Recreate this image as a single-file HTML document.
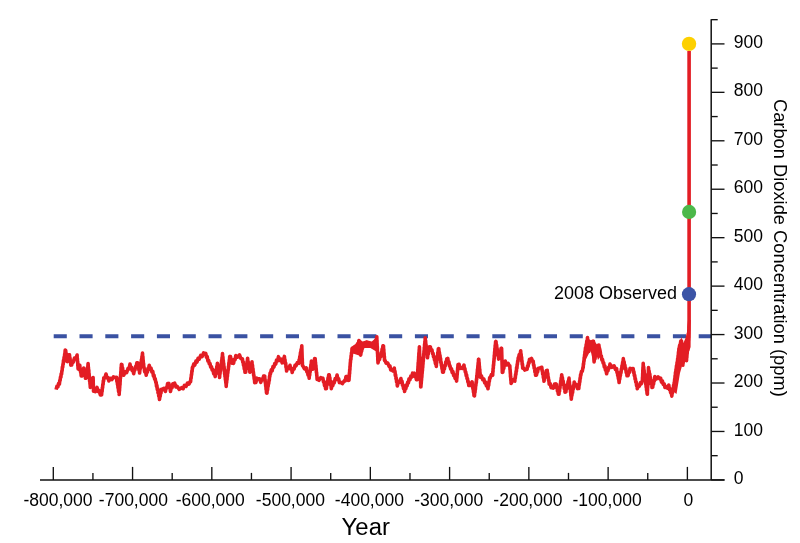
<!DOCTYPE html>
<html><head><meta charset="utf-8"><style>
html,body{margin:0;padding:0;background:#fff;width:800px;height:543px;overflow:hidden}
svg{display:block;will-change:transform}
.t{font-family:"Liberation Sans",sans-serif;font-size:17.5px;fill:#000}
</style></head><body>
<svg width="800" height="543" viewBox="0 0 800 543">
<rect width="800" height="543" fill="#fff"/>
<path d="M53.7 336.3H711.2" stroke="#3a52a2" stroke-width="4" stroke-dasharray="13.1 12.7" fill="none"/>
<path d="M40 479.9H724.5" stroke="#111" stroke-width="1.5" fill="none"/>
<path d="M711.2 19.2V479.9" stroke="#111" stroke-width="1.5" fill="none"/>
<path d="M711.2 479.90h13.3" stroke="#111" stroke-width="1.35"/>
<path d="M711.2 455.68h6.5" stroke="#111" stroke-width="1.35"/>
<path d="M711.2 431.46h13.3" stroke="#111" stroke-width="1.35"/>
<path d="M711.2 407.23h6.5" stroke="#111" stroke-width="1.35"/>
<path d="M711.2 383.01h13.3" stroke="#111" stroke-width="1.35"/>
<path d="M711.2 358.79h6.5" stroke="#111" stroke-width="1.35"/>
<path d="M711.2 334.57h13.3" stroke="#111" stroke-width="1.35"/>
<path d="M711.2 310.34h6.5" stroke="#111" stroke-width="1.35"/>
<path d="M711.2 286.12h13.3" stroke="#111" stroke-width="1.35"/>
<path d="M711.2 261.90h6.5" stroke="#111" stroke-width="1.35"/>
<path d="M711.2 237.68h13.3" stroke="#111" stroke-width="1.35"/>
<path d="M711.2 213.46h6.5" stroke="#111" stroke-width="1.35"/>
<path d="M711.2 189.23h13.3" stroke="#111" stroke-width="1.35"/>
<path d="M711.2 165.01h6.5" stroke="#111" stroke-width="1.35"/>
<path d="M711.2 140.79h13.3" stroke="#111" stroke-width="1.35"/>
<path d="M711.2 116.57h6.5" stroke="#111" stroke-width="1.35"/>
<path d="M711.2 92.34h13.3" stroke="#111" stroke-width="1.35"/>
<path d="M711.2 68.12h6.5" stroke="#111" stroke-width="1.35"/>
<path d="M711.2 43.90h13.3" stroke="#111" stroke-width="1.35"/>
<path d="M711.2 19.68h6.5" stroke="#111" stroke-width="1.35"/>
<path d="M53.30 479.9v-13" stroke="#111" stroke-width="1.35"/>
<path d="M92.93 479.9v-7" stroke="#111" stroke-width="1.35"/>
<path d="M132.56 479.9v-13" stroke="#111" stroke-width="1.35"/>
<path d="M172.19 479.9v-7" stroke="#111" stroke-width="1.35"/>
<path d="M211.82 479.9v-13" stroke="#111" stroke-width="1.35"/>
<path d="M251.45 479.9v-7" stroke="#111" stroke-width="1.35"/>
<path d="M291.08 479.9v-13" stroke="#111" stroke-width="1.35"/>
<path d="M330.71 479.9v-7" stroke="#111" stroke-width="1.35"/>
<path d="M370.34 479.9v-13" stroke="#111" stroke-width="1.35"/>
<path d="M409.97 479.9v-7" stroke="#111" stroke-width="1.35"/>
<path d="M449.60 479.9v-13" stroke="#111" stroke-width="1.35"/>
<path d="M489.23 479.9v-7" stroke="#111" stroke-width="1.35"/>
<path d="M528.86 479.9v-13" stroke="#111" stroke-width="1.35"/>
<path d="M568.49 479.9v-7" stroke="#111" stroke-width="1.35"/>
<path d="M608.12 479.9v-13" stroke="#111" stroke-width="1.35"/>
<path d="M647.75 479.9v-7" stroke="#111" stroke-width="1.35"/>
<path d="M687.38 479.9v-13" stroke="#111" stroke-width="1.35"/>
<text x="733.7" y="484.00" class="t">0</text>
<text x="733.7" y="435.56" class="t">100</text>
<text x="733.7" y="387.11" class="t">200</text>
<text x="733.7" y="338.67" class="t">300</text>
<text x="733.7" y="290.22" class="t">400</text>
<text x="733.7" y="241.78" class="t">500</text>
<text x="733.7" y="193.33" class="t">600</text>
<text x="733.7" y="144.89" class="t">700</text>
<text x="733.7" y="96.44" class="t">800</text>
<text x="733.7" y="48.00" class="t">900</text>
<text x="58" y="505.6" class="t" text-anchor="middle">-800,000</text>
<text x="133.4" y="505.6" class="t" text-anchor="middle">-700,000</text>
<text x="210.25" y="505.6" class="t" text-anchor="middle">-600,000</text>
<text x="290.4" y="505.6" class="t" text-anchor="middle">-500,000</text>
<text x="369.4" y="505.6" class="t" text-anchor="middle">-400,000</text>
<text x="448.75" y="505.6" class="t" text-anchor="middle">-300,000</text>
<text x="527.9" y="505.6" class="t" text-anchor="middle">-200,000</text>
<text x="607.1" y="505.6" class="t" text-anchor="middle">-100,000</text>
<text x="688.4" y="505.6" class="t" text-anchor="middle">0</text>
<polyline points="56.1,389.6 56.9,386.3 57.8,387.0 58.6,383.5 59.4,384.1 59.8,380.3 60.1,380.6 60.5,376.9 60.9,377.3 61.2,373.7 61.6,374.0 61.9,370.6 62.1,370.9 62.4,366.8 62.7,367.4 63.0,363.9 63.2,364.4 63.5,360.2 63.8,361.1 64.1,357.1 64.4,357.8 64.7,353.8 64.9,354.2 65.2,350.1 65.5,350.3 65.7,350.3 66.0,354.0 66.2,353.5 66.4,357.5 66.6,357.2 66.9,361.4 67.1,361.0 67.5,361.6 68.0,358.0 68.4,358.3 68.9,354.9 69.3,355.5 69.5,354.8 69.8,358.5 70.0,357.9 70.3,361.7 70.5,361.2 70.8,365.1 71.0,364.2 71.7,364.9 72.5,361.3 73.2,362.1 74.5,358.0 75.8,358.9 77.1,355.0 77.2,359.1 77.4,358.5 77.5,362.2 77.7,361.6 77.8,365.6 77.9,365.2 78.1,368.9 78.2,368.6 79.0,369.4 79.8,365.3 80.1,369.5 80.4,368.8 80.7,372.7 80.9,371.9 81.2,375.9 81.5,375.3 82.0,375.9 82.6,371.4 83.2,372.1 83.7,368.0 84.1,371.6 84.4,371.1 84.8,375.1 85.2,374.1 85.5,378.3 85.9,377.6 86.2,377.9 86.5,373.9 86.7,374.3 87.0,370.6 87.3,370.9 87.5,367.3 87.8,367.4 88.1,363.5 88.3,367.4 88.4,367.1 88.6,370.8 88.8,370.1 88.9,374.0 89.1,373.7 89.3,377.6 89.5,376.8 89.6,381.1 89.8,380.1 90.0,384.1 90.1,383.7 90.3,387.4 90.9,383.5 91.4,384.7 92.0,380.8 92.5,381.1 93.1,377.6 93.2,381.2 93.2,380.8 93.3,384.8 93.3,384.3 93.4,387.8 93.5,387.5 93.5,391.3 93.6,390.7 95.3,391.6 97.0,387.4 98.1,391.4 99.2,390.7 100.3,394.8 101.4,394.3 101.6,394.9 101.9,390.6 102.1,391.5 102.4,387.3 102.6,388.0 102.8,384.2 103.1,384.5 103.3,380.7 103.6,381.1 103.8,377.7 104.9,377.7 106.0,374.0 107.0,377.7 107.9,377.5 108.9,380.9 110.4,378.4 111.9,379.5 113.4,376.9 116.3,378.0 116.6,377.4 116.9,381.5 117.2,381.1 117.5,384.6 117.8,384.2 118.0,387.9 118.3,387.6 118.6,391.5 118.9,390.4 119.2,394.5 119.3,390.7 119.5,391.0 119.6,387.6 119.7,387.9 119.8,384.2 120.0,384.9 120.1,381.0 120.2,381.1 120.3,377.3 120.5,378.1 120.6,374.5 120.7,374.9 120.9,371.2 121.0,371.6 121.1,367.4 121.2,368.5 121.4,364.3 121.5,364.9 121.9,364.6 122.2,368.3 122.6,367.8 123.0,371.9 123.3,371.2 123.7,375.2 125.2,371.8 126.6,372.6 128.1,368.4 129.1,368.9 130.0,364.1 130.7,368.2 131.5,367.1 132.2,370.7 133.0,370.1 133.7,373.7 134.3,370.1 134.9,370.1 135.6,366.6 136.2,366.8 136.8,362.9 137.4,363.8 137.8,362.9 138.1,367.0 138.5,365.8 138.9,370.2 139.2,369.4 139.6,373.0 139.9,369.4 140.1,369.7 140.4,366.2 140.7,366.8 140.9,362.6 141.2,363.7 141.4,359.6 141.7,360.3 142.0,356.2 142.2,356.8 142.5,353.1 142.7,357.4 142.9,356.5 143.1,360.8 143.2,360.2 143.4,364.0 143.6,363.5 143.8,367.6 144.0,367.0 144.7,371.7 145.5,371.2 146.2,375.3 146.8,371.2 147.4,372.2 148.0,368.4 148.6,368.6 149.2,365.2 150.1,369.1 151.0,368.1 151.9,372.0 152.8,371.4 153.4,375.9 154.0,375.1 154.6,379.1 155.2,378.7 155.8,382.5 156.2,382.4 156.5,386.4 156.9,385.5 157.3,389.5 157.7,388.7 158.0,392.8 158.4,392.1 158.8,396.4 159.1,395.9 159.5,399.5 159.9,395.9 160.2,396.3 160.6,392.5 161.0,393.1 161.3,389.4 161.7,389.8 163.6,388.3 165.4,391.4 166.1,387.5 166.9,387.9 167.6,383.5 168.3,384.1 168.9,383.5 169.4,387.8 169.9,387.4 170.5,391.5 171.2,387.7 172.0,387.8 172.8,383.9 173.5,383.8 174.7,383.2 175.9,386.9 177.1,386.4 179.3,389.4 181.6,387.7 183.1,388.7 184.5,385.3 186.0,386.4 187.5,383.0 188.9,384.2 190.4,381.1 190.6,381.6 190.9,377.9 191.1,378.4 191.4,374.3 191.6,374.8 191.9,370.7 192.1,371.6 192.4,367.4 192.6,368.0 193.7,364.2 194.8,365.0 195.9,361.2 197.0,362.0 198.1,358.3 199.2,359.1 200.7,355.3 202.1,356.6 203.6,352.8 205.1,354.2 205.8,353.5 206.5,357.3 207.2,356.5 207.9,360.9 208.6,360.3 209.3,363.8 210.0,363.5 210.7,367.1 211.5,366.8 212.2,370.2 213.0,369.7 213.7,373.8 214.5,372.8 215.2,376.6 215.5,372.9 215.8,373.7 216.1,370.0 216.5,370.7 216.8,366.4 217.1,367.1 217.4,363.2 217.7,367.3 218.0,366.9 218.3,371.1 218.7,370.0 219.0,374.0 219.3,373.6 219.6,377.5 219.8,373.7 220.0,374.1 220.3,370.4 220.5,371.1 220.7,367.3 220.9,367.7 221.2,363.8 221.4,364.1 221.6,360.6 221.8,361.1 222.1,357.2 222.3,357.5 222.5,353.6 222.7,357.9 222.9,356.8 223.1,360.7 223.3,360.4 223.5,363.8 223.7,363.3 223.9,367.1 224.1,366.8 224.3,370.4 224.4,369.5 224.6,373.8 224.8,373.1 225.0,376.6 225.2,375.9 225.4,380.0 225.6,379.2 225.8,382.9 226.0,382.7 226.2,386.4 226.4,382.5 226.6,382.8 226.8,378.9 227.0,379.9 227.2,375.7 227.4,376.3 227.6,372.4 227.8,373.0 228.1,369.2 228.3,370.0 228.5,366.2 228.7,366.7 228.9,362.6 229.1,363.3 229.3,359.8 229.5,360.2 229.7,356.5 229.9,356.7 230.5,356.5 231.1,359.9 231.6,359.7 232.2,363.3 232.8,362.9 233.6,363.3 234.3,359.2 235.1,359.5 235.8,355.6 237.7,357.2 239.5,354.9 240.9,358.6 242.4,358.7 242.8,362.4 243.2,361.7 243.5,365.4 243.9,365.0 244.3,369.1 244.7,368.5 245.0,372.3 245.4,371.6 245.7,372.2 245.9,368.1 246.2,368.8 246.5,365.0 246.8,365.7 247.1,361.4 247.3,362.2 247.6,358.2 247.9,362.4 248.2,361.7 248.5,365.6 248.9,365.2 249.2,368.8 249.5,368.7 249.8,372.2 250.2,368.4 250.7,369.0 251.1,365.4 251.6,365.6 252.0,361.8 252.2,366.1 252.5,365.2 252.7,369.1 253.0,368.8 253.2,372.4 253.4,372.0 253.7,375.6 253.9,375.3 254.2,379.0 254.4,378.3 254.7,382.7 254.9,381.9 255.9,382.3 256.9,378.2 257.9,378.9 259.4,378.7 260.8,382.4 261.7,379.1 262.6,379.8 263.6,376.1 264.5,376.7 264.7,376.2 264.9,379.8 265.1,379.5 265.3,383.0 265.5,382.7 265.7,386.2 265.9,386.1 266.1,389.6 266.3,389.2 266.5,393.0 266.7,392.3 267.0,393.1 267.3,389.0 267.6,389.9 267.8,385.7 268.1,386.5 268.4,382.8 268.7,383.6 269.0,379.7 269.3,380.3 269.5,376.3 269.8,376.7 270.1,373.0 270.4,374.0 271.3,369.9 272.2,370.7 273.0,366.5 273.9,367.1 274.8,363.5 275.7,364.1 276.6,360.0 277.6,360.9 278.5,356.7 279.7,360.4 281.0,359.1 282.2,362.9 282.9,359.0 283.7,359.7 284.4,356.4 284.7,360.0 285.0,359.8 285.3,363.6 285.7,363.1 286.0,367.4 286.3,366.8 286.6,371.0 287.7,367.3 288.9,368.4 290.0,365.3 290.7,369.1 291.5,368.3 292.2,372.4 293.1,368.5 294.0,369.2 295.0,365.4 295.9,365.9 297.4,362.5 298.8,363.3 299.1,359.7 299.5,360.2 299.8,356.3 300.1,356.8 300.5,352.4 300.8,353.2 301.1,349.3 301.5,349.7 301.8,345.7 301.9,349.8 301.9,348.9 302.0,352.9 302.0,352.4 302.1,355.8 302.1,355.5 302.2,359.4 302.3,358.7 302.3,362.5 302.4,362.1 302.4,365.4 302.5,365.1 304.4,368.8 306.2,367.8 306.8,371.8 307.4,371.2 308.0,375.0 308.6,374.4 309.2,378.2 309.4,374.6 309.7,375.2 309.9,371.2 310.2,372.0 310.4,367.6 310.7,368.1 310.9,364.6 311.2,365.3 311.4,361.0 311.9,365.5 312.3,365.3 312.8,369.3 313.2,365.2 313.5,365.8 313.9,362.0 314.3,362.4 314.6,358.6 315.0,359.4 315.2,358.8 315.4,362.7 315.5,362.0 315.7,366.1 315.9,365.3 316.1,369.2 316.2,368.6 316.4,372.7 316.6,372.4 316.8,375.8 316.9,375.6 317.1,379.5 317.3,379.1 319.0,380.3 320.7,377.6 322.4,378.9 322.9,378.2 323.5,381.9 324.0,381.4 324.5,385.5 325.0,384.8 325.6,388.7 326.1,387.7 326.4,388.6 326.7,384.6 327.1,385.0 327.4,381.3 327.7,382.1 328.0,377.9 328.4,378.5 328.7,374.8 329.0,375.2 329.3,375.0 329.6,378.4 329.9,377.9 330.1,381.8 330.4,381.1 330.7,385.2 331.0,384.8 331.3,388.6 332.0,385.1 332.8,385.6 333.5,381.7 334.2,382.9 335.2,378.6 336.1,379.3 337.1,375.0 337.9,379.4 338.6,378.6 339.4,382.6 340.1,382.1 342.3,383.6 344.5,380.5 345.2,380.9 346.0,376.5 346.7,376.7 347.4,376.5 348.2,380.5 348.9,379.9 349.0,380.2 349.2,376.3 349.3,376.7 349.4,372.7 349.6,373.6 349.7,369.6 349.9,370.0 350.0,366.1 350.1,366.6 350.3,362.6 350.4,362.9 350.6,359.4 350.9,359.5 351.1,355.5 351.3,356.3 351.5,352.5 351.8,353.1 352.0,348.6 353.6,349.8 355.2,346.6 357.0,350.9 357.4,347.4 357.8,347.6 358.1,344.0 358.5,344.2 358.9,340.5 359.2,344.4 359.4,343.7 359.7,348.1 359.9,347.6 360.2,351.5 360.4,351.1 360.7,355.1 361.2,351.2 361.6,351.3 362.1,347.6 362.5,348.2 363.0,344.1 364.9,345.4 366.7,342.3 367.9,346.1 369.0,345.0 371.8,345.5 373.4,343.3 375.0,345.1 375.6,340.9 376.2,341.4 376.8,336.7 376.9,340.9 377.0,340.3 377.0,343.7 377.1,343.2 377.2,347.3 377.3,346.5 377.4,350.4 377.4,350.0 377.5,353.5 377.6,352.6 377.7,356.9 377.8,355.9 377.8,360.2 377.9,359.4 378.0,362.9 378.8,359.3 379.5,359.6 380.2,355.5 381.0,356.4 381.4,352.2 381.8,353.0 382.1,349.0 382.5,349.8 382.9,345.9 383.3,346.4 383.5,345.9 383.6,349.9 383.8,349.3 383.9,353.5 384.1,353.0 384.2,356.7 384.4,356.5 384.5,360.4 384.7,359.7 386.2,363.3 387.7,363.0 389.2,366.5 389.9,365.9 390.7,369.9 391.4,369.5 392.9,370.9 394.3,368.2 394.6,371.7 395.0,371.3 395.3,375.5 395.6,374.7 396.0,378.9 396.3,378.2 396.6,382.0 397.0,381.8 397.3,385.9 398.5,381.6 399.7,382.1 400.9,378.5 401.4,382.1 402.0,381.3 402.5,385.2 403.0,384.7 403.5,388.5 404.1,387.5 404.6,391.4 405.2,388.1 405.9,388.5 406.5,384.9 407.1,385.7 407.7,382.1 408.4,382.9 409.0,378.8 409.9,379.7 410.8,376.2 411.7,377.0 412.6,373.2 413.5,374.0 414.2,373.2 414.9,376.6 415.7,375.9 416.4,379.6 417.1,378.7 417.2,379.6 417.3,375.9 417.4,376.2 417.6,372.5 417.7,373.2 417.8,369.0 417.9,369.7 418.0,366.1 418.1,366.5 418.2,362.5 418.4,363.2 418.5,359.8 418.6,359.9 418.7,356.4 418.8,357.1 418.9,352.8 419.1,353.8 419.2,349.5 419.3,350.7 419.4,346.7 419.5,350.3 419.5,349.7 419.6,353.9 419.6,353.5 419.7,357.2 419.8,356.6 419.8,360.4 419.9,359.9 419.9,363.6 420.0,363.4 420.0,366.9 420.1,366.6 420.2,370.6 420.2,370.0 420.3,374.0 420.3,373.3 420.4,376.9 420.4,376.2 420.5,380.5 420.6,379.8 420.6,383.4 420.7,383.1 420.7,386.9 420.8,386.1 420.9,386.8 421.1,383.2 421.2,384.0 421.4,380.1 421.5,380.5 421.7,376.5 421.8,377.4 422.0,373.7 422.1,373.7 422.3,370.4 422.4,371.0 422.6,367.0 422.7,367.7 422.9,363.4 423.0,364.2 423.1,360.5 423.3,361.3 423.4,357.1 423.6,357.6 423.7,353.8 423.9,354.4 424.0,350.8 424.2,351.0 424.3,347.3 424.5,348.3 424.6,344.1 424.8,345.0 424.9,341.2 425.1,341.4 425.2,337.7 425.4,341.8 425.6,340.6 425.8,344.7 426.0,344.3 426.2,347.9 426.5,347.3 426.7,351.4 426.9,350.7 427.1,354.6 427.3,353.6 427.5,357.8 427.9,353.5 428.2,354.2 428.6,350.3 429.0,350.7 429.3,346.9 429.7,347.5 430.4,347.0 431.1,350.5 431.9,349.9 432.6,353.8 433.1,353.5 433.5,356.8 434.0,356.4 434.5,360.1 434.9,359.3 435.4,363.6 435.8,362.4 436.3,366.4 436.5,362.8 436.7,362.9 437.0,359.2 437.2,359.8 437.4,355.8 437.6,356.2 437.8,352.4 438.1,353.0 438.3,348.9 438.5,349.7 438.8,348.7 439.1,352.9 439.4,352.4 439.7,356.2 440.0,355.5 440.3,359.3 440.6,358.7 440.8,362.6 441.1,362.0 441.4,365.6 441.7,365.2 442.0,368.8 442.3,368.1 442.6,372.2 442.9,371.7 443.4,372.1 443.9,368.0 444.4,368.9 444.9,365.2 445.3,365.8 445.8,361.7 446.3,362.7 446.8,358.7 447.3,359.1 447.8,358.5 448.4,362.8 448.9,361.9 449.5,365.9 450.0,365.8 450.7,369.2 451.5,368.9 452.2,372.7 452.9,371.6 453.7,375.6 454.4,374.7 455.1,378.5 455.9,377.5 456.6,381.1 456.8,377.2 456.9,378.2 457.1,374.3 457.2,374.8 457.4,370.8 457.5,371.3 457.7,367.7 457.8,368.1 458.0,364.6 458.1,364.9 459.1,364.4 460.0,368.5 461.0,368.0 462.5,368.4 464.0,365.1 464.4,369.0 464.9,368.5 465.3,372.1 465.7,371.8 466.2,375.7 466.6,374.9 467.0,378.6 467.5,378.5 467.9,382.1 468.3,381.5 468.8,385.5 469.2,385.1 470.6,385.4 472.1,381.8 472.4,385.7 472.7,385.3 472.9,389.0 473.2,388.3 473.5,392.3 473.8,391.8 474.0,395.7 474.3,395.2 474.5,396.0 474.7,391.7 475.0,392.5 475.2,388.9 475.4,389.4 475.6,385.6 475.8,385.8 476.1,382.0 476.3,382.8 476.5,378.8 476.7,379.5 476.8,375.5 477.0,376.3 477.2,372.6 477.3,372.7 477.5,369.1 477.7,369.8 477.9,365.6 478.0,366.2 478.2,362.5 478.4,363.0 478.5,359.2 478.7,359.6 478.8,359.4 479.0,363.2 479.1,362.4 479.3,366.4 479.4,366.1 479.6,370.2 479.8,369.2 479.9,373.3 480.1,373.1 480.2,377.1 481.4,375.8 482.7,379.7 483.9,379.2 484.7,382.9 485.5,382.0 486.4,385.9 487.2,384.8 488.0,388.8 488.3,384.8 488.7,385.3 489.0,381.3 489.3,381.6 489.7,377.5 490.0,378.4 491.4,374.7 492.7,375.2 492.8,371.5 493.0,372.0 493.1,368.2 493.3,368.5 493.4,364.9 493.6,365.5 493.8,361.2 493.9,361.8 494.1,358.1 494.2,358.9 494.3,355.1 494.5,355.6 494.6,351.7 494.8,352.1 494.9,348.2 495.1,348.8 495.2,345.0 495.4,345.4 495.6,341.5 495.7,342.1 496.0,341.5 496.3,345.5 496.6,345.0 496.9,348.7 497.1,348.3 497.4,352.3 497.7,351.9 498.0,355.9 498.3,355.0 498.6,359.1 499.1,355.3 499.6,355.7 500.1,352.0 500.6,352.0 501.1,348.3 501.6,348.6 501.6,348.3 501.7,352.2 501.7,351.8 501.8,355.6 501.8,355.1 501.9,359.0 501.9,358.1 502.0,362.2 502.0,361.8 502.1,365.5 502.1,365.0 502.2,369.1 502.2,368.5 502.3,372.4 502.3,371.3 502.8,372.2 503.3,368.0 503.8,368.5 504.2,364.4 504.7,365.2 505.2,361.0 506.7,364.8 508.2,363.5 509.7,366.7 509.8,365.7 510.0,369.7 510.1,369.4 510.3,373.4 510.4,372.9 510.5,376.9 510.7,376.2 510.8,380.2 511.0,379.7 511.1,383.4 513.0,379.8 514.8,381.1 515.1,377.5 515.3,378.0 515.6,374.2 515.9,374.4 516.1,371.0 516.4,371.3 516.6,367.3 516.9,368.3 517.2,364.1 517.4,364.7 517.7,360.9 518.0,361.5 518.2,357.8 518.5,358.5 519.2,354.5 520.0,355.2 520.7,350.9 520.9,354.9 521.1,354.0 521.4,357.9 521.6,357.2 521.8,361.4 522.0,360.8 522.2,364.7 522.5,364.1 522.7,368.1 522.9,367.1 524.8,370.1 526.6,368.5 527.1,369.3 527.6,365.7 528.1,366.3 528.5,362.6 529.0,363.2 529.5,359.3 530.0,359.9 531.5,358.4 532.9,362.1 533.2,361.3 533.6,365.2 533.9,365.0 534.2,368.3 534.6,368.2 534.9,372.0 535.2,371.3 535.6,375.2 535.9,374.4 536.5,375.0 537.1,371.5 537.6,372.0 538.2,368.4 538.8,368.4 541.8,367.3 542.1,370.9 542.4,370.6 542.7,374.3 543.1,373.9 543.4,377.9 543.7,377.5 544.0,381.3 544.5,377.3 545.0,377.6 545.5,373.6 545.9,374.2 546.4,370.6 546.9,370.7 547.2,370.3 547.5,374.4 547.8,373.5 548.0,377.5 548.3,377.1 548.6,380.5 548.9,380.1 549.2,384.2 550.2,383.7 551.1,387.7 552.1,387.1 553.3,388.1 554.6,384.0 555.8,384.8 556.2,384.0 556.6,387.8 557.0,387.4 557.5,391.2 557.9,390.7 558.3,394.1 558.7,393.5 559.0,394.1 559.2,390.5 559.5,391.4 559.7,387.5 560.0,387.8 560.2,384.1 560.5,384.8 560.7,380.9 561.0,381.8 561.2,377.9 561.5,378.3 561.7,374.7 562.1,378.3 562.4,377.7 562.8,382.0 563.2,381.2 563.5,385.0 563.9,384.5 564.3,388.8 564.7,388.1 565.0,392.2 565.4,391.5 565.9,391.9 566.3,388.4 566.8,388.6 567.2,385.1 567.6,385.4 568.1,381.4 568.5,382.3 569.0,378.1 569.2,382.3 569.4,381.8 569.6,385.6 569.8,385.0 570.0,389.0 570.3,388.3 570.5,392.1 570.7,391.6 570.9,395.8 571.1,395.2 571.3,399.1 571.6,395.3 571.9,395.5 572.3,391.9 572.6,392.5 572.9,388.2 573.2,389.2 573.6,385.3 573.9,386.0 574.2,382.0 575.3,385.4 576.4,384.6 577.5,388.6 578.6,387.7 578.8,388.5 579.1,384.2 579.3,385.1 579.6,381.1 579.8,382.0 580.1,377.8 580.3,378.6 580.6,374.6 580.8,375.4 581.5,371.2 582.3,371.2 583.0,367.1 583.2,367.6 583.4,363.7 583.6,364.4 583.8,361.0 584.0,361.2 584.2,357.3 584.4,358.1 584.6,354.5 584.8,354.7 585.0,351.3 585.2,351.8 585.5,347.7 585.9,348.5 586.2,344.3 586.5,344.7 586.8,341.0 587.2,341.5 587.5,337.5 587.7,341.8 587.9,340.8 588.1,344.7 588.3,344.2 588.5,348.6 588.7,347.5 588.9,351.5 589.6,348.0 590.4,348.3 591.1,344.9 591.9,345.5 592.6,341.3 593.4,342.2 593.5,341.4 593.5,345.5 593.6,345.0 593.6,348.5 593.7,348.4 593.8,352.2 593.8,351.7 593.9,355.3 593.9,354.8 594.0,358.4 594.0,358.3 594.1,361.9 594.5,358.0 595.0,358.7 595.4,355.0 595.9,355.8 596.3,351.7 596.7,352.5 597.2,348.4 597.6,348.8 598.1,345.2 598.5,345.8 598.9,345.1 599.2,349.2 599.6,348.6 600.0,352.7 600.3,352.3 600.7,356.3 601.3,355.9 601.9,359.9 602.5,359.4 603.1,363.0 603.7,362.9 604.3,366.9 604.9,366.0 605.4,370.0 606.0,369.8 606.6,373.8 607.3,370.0 608.0,370.7 608.6,367.2 609.3,367.9 610.0,364.1 612.0,367.3 614.1,365.8 615.4,369.4 616.6,368.7 617.0,372.6 617.3,371.9 617.7,375.6 618.0,375.1 618.4,378.9 618.7,378.4 619.1,382.5 619.4,378.4 619.7,379.2 620.1,375.3 620.4,375.7 620.7,371.9 621.0,372.7 621.4,368.8 621.7,369.3 622.0,365.5 622.3,365.6 622.7,362.0 623.0,362.7 623.3,358.6 623.7,362.4 624.1,361.7 624.5,365.7 624.9,365.2 625.3,369.1 625.8,368.4 626.2,372.6 626.6,371.8 627.0,375.7 627.4,375.3 628.1,375.6 628.7,371.7 629.4,372.5 630.0,368.4 630.7,368.9 633.2,368.6 633.6,372.6 633.9,371.8 634.3,375.6 634.7,375.2 635.1,379.3 635.4,378.7 635.8,382.2 636.2,381.9 636.6,385.8 636.9,384.9 637.3,388.8 638.3,385.7 639.3,386.2 640.3,382.9 641.3,383.8 642.3,380.4 642.4,380.7 642.5,377.0 642.6,377.7 642.7,373.4 642.8,373.9 642.8,370.0 642.9,370.6 643.0,367.0 643.1,367.8 643.2,363.4 643.4,367.6 643.7,366.9 643.9,370.6 644.1,370.1 644.3,373.9 644.6,373.7 644.8,377.3 645.0,377.1 645.2,380.7 645.5,380.0 645.7,384.1 645.9,383.4 646.2,387.4 646.4,386.8 646.6,390.5 646.8,390.0 647.1,393.9 647.3,393.2 647.4,394.2 647.4,390.2 647.5,390.8 647.6,386.8 647.7,387.5 647.8,383.9 647.8,384.5 647.9,380.3 648.0,381.3 648.0,377.2 648.1,378.1 648.2,374.0 648.3,374.8 648.4,370.9 648.4,371.4 648.5,367.6 648.8,371.3 649.1,370.9 649.5,374.9 649.8,373.9 650.1,378.0 650.4,377.4 650.7,381.0 651.0,380.4 651.3,384.3 651.7,383.6 652.0,387.5 652.3,386.5 652.7,387.2 653.1,383.4 653.5,384.2 654.0,380.2 654.4,380.8 654.8,376.6 656.4,378.9 658.1,376.9 659.7,378.9 660.6,378.1 661.5,382.1 662.4,381.0 663.2,384.4 664.1,383.8 665.0,387.5 665.9,386.5 667.3,388.1 668.8,385.1 669.4,389.4 670.0,388.7 670.6,392.6 671.2,392.0 671.8,396.1 672.2,392.2 672.5,392.7 672.9,388.7 673.3,389.1 673.6,385.1 674.0,385.8 674.2,382.3 674.4,382.6 674.7,378.9 674.9,379.2 675.1,375.6 675.3,376.2 675.5,372.2 675.8,372.9 676.0,369.2 676.2,369.6 676.5,365.6 676.8,366.4 677.1,362.2 677.4,362.5 677.7,358.5 677.9,359.2 678.1,355.5 678.3,355.7 678.5,351.8 678.7,352.7 678.9,348.5 679.1,349.1 679.7,345.0 680.2,345.3 680.8,341.1 681.4,341.6 681.5,341.1 681.6,345.3 681.7,344.4 681.8,348.4 681.9,348.0 682.0,351.9 682.1,351.5 682.2,355.4 682.3,354.7 682.4,358.8 682.5,358.2 682.6,361.9 682.7,361.5 682.8,365.3 683.0,361.5 683.2,361.6 683.3,357.8 683.5,358.3 683.7,354.6 683.9,354.9 684.1,351.1 684.3,351.5 684.5,347.6 684.6,348.2 684.8,344.3 685.0,345.0 685.1,343.9 685.3,347.7 685.5,347.2 685.6,351.4 685.8,350.4 685.9,354.2 686.0,353.6 686.2,357.8 686.4,357.3 686.5,360.6 686.7,356.7 686.8,357.6 687.0,353.8 687.1,354.0 687.3,350.5 687.4,350.7 687.6,346.7 687.8,347.3 687.9,343.7 688.1,344.3 688.2,340.0 688.4,340.5 688.5,336.5 688.7,337.4 688.7,333.3 688.8,334.2 688.8,330.0 688.9,331.0 688.9,326.8 688.9,327.4 689.0,323.6 689.0,324.4 689.1,320.4 689.1,321.1 689.1,51.0" fill="none" stroke="#e31d24" stroke-width="3.6" stroke-linejoin="round"/>
<polygon points="351,347 355.2,344.3 358.9,338.8 362.6,341.6 366.7,340.2 371.8,341.6 376.8,337 377.5,352 375,350.8 370.4,348 364,348 360.7,356 352.9,353.5" fill="#e31d24"/>
<polygon points="584.5,362.3 585.2,341.6 587.7,338.4 591,340.3 593.5,339.7 596.8,344.2 600,345.5 602,352 600,357 598,360 595.5,352 592.9,361 590.5,350 588.4,354.5" fill="#e31d24"/>
<polygon points="673.8,392 675.5,375 676.5,364 678.2,350 680.5,340 681.5,337 683,344 685.5,338 687.5,330 688,320 690.8,320 690.6,347 689,352 686,360 684.3,364 682,366 680,373 678,385 676.5,394" fill="#e31d24"/>
<circle cx="689.05" cy="43.85" r="7.2" fill="#fdd000"/>
<circle cx="689.1" cy="211.9" r="7.1" fill="#4cb84a"/>
<circle cx="689" cy="294.2" r="7.1" fill="#3c54a6"/>
<text x="554" y="299.3" class="t" textLength="123" lengthAdjust="spacingAndGlyphs">2008 Observed</text>
<text x="341.6" y="535" class="t" style="font-size:23px" textLength="48.3" lengthAdjust="spacingAndGlyphs">Year</text>
<text transform="translate(774.4 99) rotate(90)" x="0" y="0" class="t" style="font-size:18.3px">Carbon Dioxide Concentration (ppm)</text>
</svg>
</body></html>
